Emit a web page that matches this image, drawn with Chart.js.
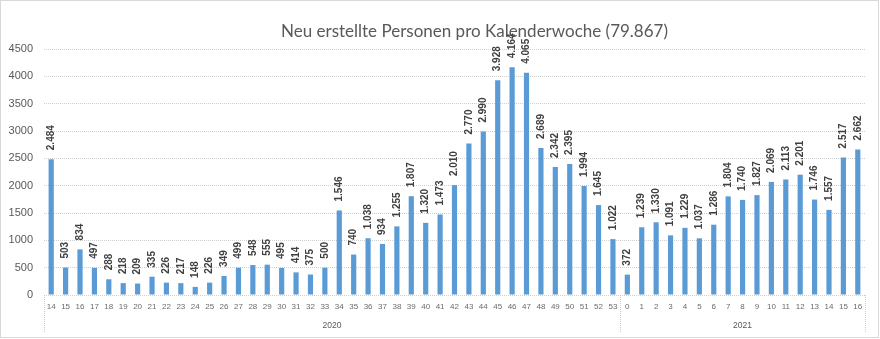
<!DOCTYPE html>
<html>
<head>
<meta charset="utf-8">
<script src="https://cdn.jsdelivr.net/npm/chart.js@4.4.1/dist/chart.umd.min.js"></script>
<style>
  html, body { margin: 0; padding: 0; background: #ffffff; }
  #wrap { width: 880px; height: 339px; }
</style>
</head>
<body>
<div id="wrap"><canvas id="c" width="880" height="339"></canvas></div>
<script>
const chartTitle = 'Neu erstellte Personen pro Kalenderwoche (79.867)';
const years = ['2020', '2021'];
const weeks2020 = ['14','15','16','17','18','19','20','21','22','23','24','25','26','27','28','29','30','31','32','33','34','35','36','37','38','39','40','41','42','43','44','45','46','47','48','49','50','51','52','53'];
const values2020 = [2484, 503, 834, 497, 288, 218, 209, 335, 226, 217, 148, 226, 349, 499, 548, 555, 495, 414, 375, 500, 1546, 740, 1038, 934, 1255, 1807, 1320, 1473, 2010, 2770, 2990, 3928, 4164, 4065, 2689, 2342, 2395, 1994, 1645, 1022];
const weeks2021 = ['0','1','2','3','4','5','6','7','8','9','10','11','12','13','14','15','16'];
const values2021 = [372, 1239, 1330, 1091, 1229, 1037, 1286, 1804, 1740, 1827, 2069, 2113, 2201, 1746, 1557, 2517, 2662];
const yTicks = [0, 500, 1000, 1500, 2000, 2500, 3000, 3500, 4000, 4500];

const labels = weeks2020.concat(weeks2021);
const values = values2020.concat(values2021);
const groups = [
  { label: years[0], count: weeks2020.length },
  { label: years[1], count: weeks2021.length }
];

function fmtDE(v) {
  return String(v).replace(/\B(?=(\d{3})+(?!\d))/g, '.');
}

const decorPlugin = {
  id: 'decor',
  afterDraw(chart) {
    const ctx = chart.ctx;
    const xs = chart.scales.x;
    const area = chart.chartArea;
    const catW = (xs.getPixelForValue(1) - xs.getPixelForValue(0));
    ctx.save();
    // outer border
    ctx.strokeStyle = '#d9d9d9';
    ctx.lineWidth = 1;
    ctx.strokeRect(0.5, 0.5, 878, 337);
    // title
    ctx.fillStyle = '#595959';
    ctx.font = '17px Lato, "Open Sans", sans-serif';
    ctx.textAlign = 'center';
    ctx.textBaseline = 'alphabetic';
    ctx.fillText(chartTitle, 474.5, 37);
    // group separators and year labels
    ctx.strokeStyle = '#c8c8c8';
    ctx.setLineDash([1, 1]);
    let idx = 0;
    const bounds = [];
    bounds.push(xs.getPixelForValue(0) - catW / 2);
    groups.forEach(g => {
      idx += g.count;
      bounds.push(xs.getPixelForValue(idx - 1) + catW / 2);
    });
    bounds.forEach(bx => {
      const x = Math.round(bx) + 0.5;
      ctx.beginPath();
      ctx.moveTo(x, area.bottom);
      ctx.lineTo(x, area.bottom + 38);
      ctx.stroke();
    });
    ctx.setLineDash([]);
    ctx.fillStyle = '#595959';
    ctx.font = '8.5px "Liberation Sans", Arial, sans-serif';
    ctx.textBaseline = 'middle';
    ctx.textAlign = 'center';
    groups.forEach((g, i) => {
      ctx.fillText(g.label, (bounds[i] + bounds[i + 1]) / 2, area.bottom + 31);
    });
    // data labels
    const meta = chart.getDatasetMeta(0);
    ctx.fillStyle = '#404040';
    ctx.font = 'bold 10px "Liberation Sans", Arial, sans-serif';
    ctx.textAlign = 'left';
    ctx.textBaseline = 'middle';
    meta.data.forEach((bar, i) => {
      ctx.save();
      ctx.translate(bar.x, bar.y - 9);
      ctx.rotate(-Math.PI / 2);
      ctx.fillText(fmtDE(values[i]), 0, 0);
      ctx.restore();
    });
    ctx.restore();
  }
};

new Chart(document.getElementById('c'), {
  type: 'bar',
  data: {
    labels: labels,
    datasets: [{
      data: values,
      backgroundColor: '#5B9BD5',
      borderWidth: 0,
      categoryPercentage: 1.0,
      barPercentage: 0.36
    }]
  },
  options: {
    responsive: false,
    animation: false,
    devicePixelRatio: 1,
    layout: { padding: { top: 49, right: 15, left: 0, bottom: 0 } },
    plugins: {
      legend: { display: false },
      tooltip: { enabled: false },
      title: { display: false }
    },
    scales: {
      x: {
        type: 'category',
        grid: { display: false, drawTicks: false },
        border: { display: false },
        ticks: {
          color: '#6b6b6b',
          font: { family: '"Liberation Sans", Arial, sans-serif', size: 8 },
          padding: 7,
          maxRotation: 0,
          autoSkip: false
        },
        afterFit(s) { s.height = 44; }
      },
      y: {
        min: 0,
        max: 4500,
        afterBuildTicks(s) { s.ticks = yTicks.map(v => ({ value: v })); },
        grid: {
          color: '#cfcfcf',
          drawTicks: false,
          lineWidth: 1
        },
        border: { display: false, dash: [1, 1] },
        ticks: {
          color: '#595959',
          font: { family: '"Liberation Sans", Arial, sans-serif', size: 11 },
          padding: 11,
          callback: v => String(v)
        },
        afterFit(s) { s.width = 44; }
      }
    }
  },
  plugins: [decorPlugin]
});
</script>
</body>
</html>
